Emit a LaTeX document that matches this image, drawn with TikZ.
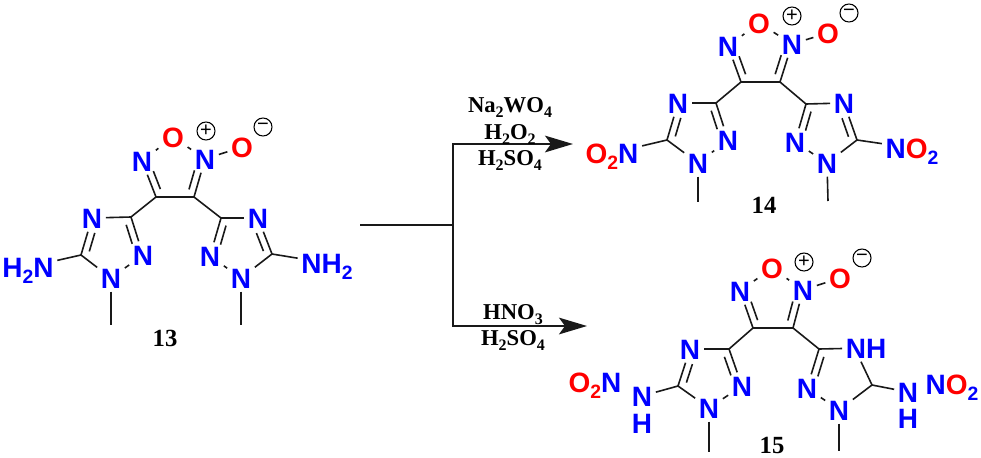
\documentclass[tikz,border=0pt]{standalone}
\usepackage{fontspec}
\setmainfont{Liberation Sans}
\newfontfamily\tmsfont{Liberation Serif}
\usetikzlibrary{calc,arrows.meta}
\definecolor{nblue}{RGB}{0,0,255}
\definecolor{ored}{RGB}{255,0,0}
\newcommand\sbs[1]{\raisebox{-0.22em}{\fontsize{14.5}{14.5}\selectfont #1}}
\newcommand\rsb[1]{\raisebox{-0.2em}{\fontsize{12}{12}\selectfont #1}}
\newcommand\ored[1]{\textcolor{ored}{#1}}
\tikzset{
  atomtext/.style={inner sep=2.6pt,font=\fontsize{21}{21}\selectfont\bfseries,text height=15pt,text depth=0pt},
  nat/.style={atomtext,text=nblue},
  oat/.style={atomtext,text=ored},
  bond/.style={line width=1.2pt,black!90},
  chg/.style={circle,draw=black,line width=.8pt,inner sep=0pt,minimum size=13.5pt,font=\fontsize{15}{15}\selectfont},
  reagent/.style={inner sep=0pt,font=\fontsize{17}{17}\selectfont\tmsfont\bfseries,text height=11.3pt,text depth=0pt},
  cpd/.style={inner sep=0pt,font=\fontsize{18.5}{18.5}\selectfont\tmsfont\bfseries},
  sline/.style={line width=1.5pt,black!90},
  sarrow/.style={sline,-{Stealth[length=21pt,width=12.5pt,inset=4.5pt]}}
}
\newcommand\bn[2]{\draw[bond] (#1) -- (#2);}
\newcommand\dbl[4]{\draw[bond] ($(#1)!#3!(#2)!5.2pt!90:(#2)$) -- ($(#1)!#4!(#2)!5.2pt!90:(#2)$);}
\newcommand\furox[1]{%
  \bn{#1O}{#1NL}\bn{#1O}{#1NR}\bn{#1NR}{#1Om}
  \bn{#1NL}{#1CL}\dbl{#1NL}{#1CL}{.35}{.85}
  \bn{#1NR}{#1CR}\dbl{#1CR}{#1NR}{.15}{.65}
  \bn{#1CL}{#1CR}
  \bn{#1CL}{#1lC}\bn{#1CR}{#1rC}}
\newcommand\lring[1]{%
  \bn{#1lC}{#1lNa}\bn{#1lC}{#1lNb}\dbl{#1lNb}{#1lC}{.35}{.85}
  \bn{#1lNa}{#1lCf}\dbl{#1lNa}{#1lCf}{.35}{.85}
  \bn{#1lCf}{#1lNo}\bn{#1lNo}{#1lNb}}
\newcommand\rring[1]{%
  \bn{#1rC}{#1rNa}\bn{#1rC}{#1rNb}\dbl{#1rC}{#1rNb}{.15}{.65}
  \bn{#1rNb}{#1rNo}\bn{#1rNo}{#1rCf}}
\begin{document}
\begin{tikzpicture}[x=0.75pt,y=-0.75pt]
\useasboundingbox (0,0) rectangle (981,457);
% ---------- 13
\node[oat] (aO) at (173,137) {O};
\node[nat] (aNL) at (142,161) {N};
\node[nat] (aNR) at (205,159) {N};
\node[oat] (aOm) at (242,147) {O};
\node[chg] (aP) at (206,131) {+};
\node[chg] (aM) at (263,127) {−};
\coordinate (aCL) at (156,197);
\coordinate (aCR) at (194,197);
\coordinate (alC) at (131,217);
\node[nat] (alNa) at (92,218) {N};
\node[nat] (alNb) at (143,255) {N};
\node[nat] (alNo) at (111,278) {N};
\coordinate (alCf) at (81,255);
\node[nat] (alS) at (28,267) {H\sbs{2}N};
\coordinate (alMe) at (111,325);
\coordinate (arC) at (221,218);
\node[nat] (arNa) at (258,218) {N};
\node[nat] (arNb) at (210,256) {N};
\node[nat] (arNo) at (241,278) {N};
\coordinate (arCf) at (272,254);
\node[nat] (arS) at (327,263) {NH\sbs{2}};
\coordinate (arMe) at (241,325);
\furox{a}\lring{a}\rring{a}
\bn{arNa}{arCf}\dbl{arCf}{arNa}{.15}{.65}
\bn{alCf}{alS}\bn{arCf}{arS}\bn{alNo}{alMe}\bn{arNo}{arMe}
\node[cpd] (a13) at (165,338) {13};
% ---------- 14
\node[oat] (bO) at (759,23) {O};
\node[nat] (bNL) at (728,46) {N};
\node[nat] (bNR) at (792,44) {N};
\node[oat] (bOm) at (828,33) {O};
\node[chg] (bP) at (792,16) {+};
\node[chg] (bM) at (849,13) {−};
\coordinate (bCL) at (741,82);
\coordinate (bCR) at (780,82);
\coordinate (blC) at (716,103);
\node[nat] (blNa) at (678,103) {N};
\node[nat] (blNb) at (728,140) {N};
\node[nat] (blNo) at (698,163) {N};
\coordinate (blCf) at (667,140);
\node[nat] (blS) at (612,153) {\ored{O}\sbs{\ored{2}}N};
\coordinate (blMe) at (698,202);
\coordinate (brC) at (806,104);
\node[nat] (brNa) at (844,103) {N};
\node[nat] (brNb) at (795,142) {N};
\node[nat] (brNo) at (827,163) {N};
\coordinate (brCf) at (857,140);
\node[nat] (brS) at (912,148) {N\ored{O}\sbs{2}};
\coordinate (brMe) at (828,201);
\furox{b}\lring{b}\rring{b}
\bn{brNa}{brCf}\dbl{brCf}{brNa}{.15}{.65}
\bn{blCf}{blS}\bn{brCf}{brS}\bn{blNo}{blMe}\bn{brNo}{brMe}
\node[cpd] (b14) at (764,205) {14};
% ---------- 15
\node[oat] (cO) at (772,268) {O};
\node[nat] (cNL) at (740,291) {N};
\node[nat] (cNR) at (803,290) {N};
\node[oat] (cOm) at (840,278) {O};
\node[chg] (cP) at (804,262) {+};
\node[chg] (cM) at (862,258) {−};
\coordinate (cCL) at (753,328);
\coordinate (cCR) at (793,328);
\coordinate (clC) at (729,349);
\node[nat] (clNa) at (690,349) {N};
\node[nat] (clNb) at (742,386) {N};
\node[nat] (clNo) at (709,408) {N};
\coordinate (clCf) at (678,386);
\node[nat] (clN) at (642,396) {N};
\node[nat] (clH) at (642,423) {H};
\node[nat] (clS) at (595,382) {\ored{O}\sbs{\ored{2}}N};
\coordinate (clMe) at (709,452);
\coordinate (crC) at (819,349);
\node[nat] (crNa) at (866,348) {NH};
\node[nat] (crNb) at (807,388) {N};
\node[nat] (crNo) at (839,410) {N};
\coordinate (crCf) at (872,385);
\node[nat] (crN) at (908,392) {N};
\node[nat] (crH) at (908,418) {H};
\node[nat] (crS) at (952,384) {N\ored{O}\sbs{2}};
\coordinate (crMe) at (839,451);
\furox{c}\lring{c}\rring{c}
\bn{crNa.250}{crCf}
\bn{clCf}{clN}\bn{crCf}{crN}\bn{clNo}{clMe}\bn{crNo}{crMe}
\node[cpd] (c15) at (772,445) {15};
% ---------- scheme
\coordinate (sS) at (360,225);
\coordinate (sJ) at (453,225);
\coordinate (sT) at (453,144);
\coordinate (sB) at (453,326);
\coordinate (sA) at (573,144);
\coordinate (sC) at (587,326);
\draw[sline] (sS) -- (sJ);
\draw[sline,line cap=rect] (sT) -- (sB);
\draw[sarrow] (sT) -- (sA);
\draw[sarrow] (sB) -- (sC);
\node[reagent] (r1) at (510,105) {Na\rsb{2}WO\rsb{4}};
\node[reagent] (r2) at (510,132) {H\rsb{2}O\rsb{2}};
\node[reagent] (r3) at (510,158) {H\rsb{2}SO\rsb{4}};
\node[reagent] (r4) at (513,312) {HNO\rsb{3}};
\node[reagent] (r5) at (513,338) {H\rsb{2}SO\rsb{4}};
\end{tikzpicture}
\end{document}
